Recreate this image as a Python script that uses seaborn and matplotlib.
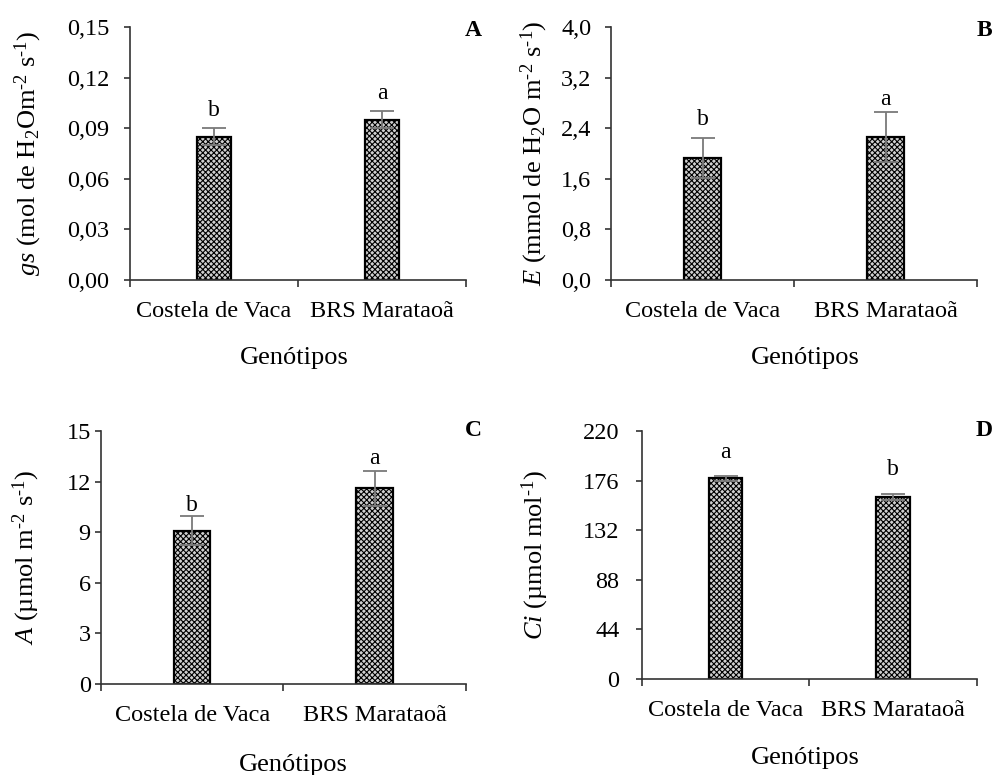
import matplotlib
matplotlib.use("Agg")
import matplotlib.pyplot as plt
import seaborn as sns
import numpy as np

sns.set_theme(style="white")
plt.rcParams['font.family'] = ['Liberation Serif', 'DejaVu Serif']
plt.rcParams['mathtext.fontset'] = 'custom'
plt.rcParams['mathtext.rm'] = 'Liberation Serif'
plt.rcParams['mathtext.it'] = 'Liberation Serif:italic'
plt.rcParams['mathtext.bf'] = 'Liberation Serif:bold'
plt.rcParams['hatch.linewidth'] = 0.8
for k in ['text.color', 'axes.labelcolor', 'xtick.color', 'ytick.color']:
    plt.rcParams[k] = 'black'

categories = ["Costela de Vaca", "BRS Marataoã"]

gs_mean = [0.085, 0.095]
gs_err = [0.005, 0.005]
gs_letters = ["b", "a"]
gs_letter_y = [0.0945, 0.1045]

E_mean = [1.93, 2.26]
E_err = [0.32, 0.39]
E_letters = ["b", "a"]
E_letter_y = [2.37, 2.69]

A_mean = [9.1, 11.6]
A_err = [0.85, 1.05]
A_letters = ["b", "a"]
A_letter_y = [9.95, 12.75]

Ci_mean = [178.0, 161.5]
Ci_err = [2.5, 2.5]
Ci_letters = ["a", "b"]
Ci_letter_y = [192.0, 176.5]

W, H = 995, 775
fig = plt.figure(figsize=(W / 100, H / 100), dpi=100)

def px_axes(l, r, t, b):
    return fig.add_axes([l / W, (H - b) / H, (r - l) / W, (b - t) / H])

panels = [
    dict(box=(130, 466, 27, 280), mean=gs_mean, err=gs_err, letters=gs_letters, ly=gs_letter_y,
         ymax=0.15, step=0.03, fmt="{:.2f}", tag="A", tagpos=(1.048, 1.028),
         ylabel=r"$\it{gs}$ (mol de H$_2$Om$^{\text{-2}}$ s$^{\text{-1}}$)", ylc=(-0.256, 0.5), xlc=(0.488, -0.265), ypad=10.5),
    dict(box=(611, 977, 27, 280), mean=E_mean, err=E_err, letters=E_letters, ly=E_letter_y,
         ymax=4.0, step=0.8, fmt="{:.1f}", tag="B", tagpos=(1.041, 1.028),
         ylabel=r"$\it{E}$ (mmol de H$_2$O m$^{\text{-2}}$ s$^{\text{-1}}$)", ylc=(-0.166, 0.5), xlc=(0.53, -0.265), ypad=10),
    dict(box=(101, 466, 431, 684), mean=A_mean, err=A_err, letters=A_letters, ly=A_letter_y,
         ymax=15, step=3, fmt="{:.0f}", tag="C", tagpos=(1.044, 1.043),
         ylabel=r"$\it{A}$ (µmol m$^{\text{-2}}$ s$^{\text{-1}}$)", ylc=(-0.161, 0.5), xlc=(0.526, -0.277), ypad=3),
    dict(box=(642, 977, 431, 679), mean=Ci_mean, err=Ci_err, letters=Ci_letters, ly=Ci_letter_y,
         ymax=220, step=44, fmt="{:.0f}", tag="D", tagpos=(1.048, 1.044),
         ylabel=r"$\it{Ci}$ (µmol mol$^{\text{-1}}$)", ylc=(-0.272, 0.5), xlc=(0.487, -0.275), ypad=12),
]

for p in panels:
    ax = px_axes(*p["box"])
    sns.barplot(x=categories, y=p["mean"], ax=ax, width=0.2, color="#b0b0b0",
                edgecolor="black", linewidth=1.6, errorbar=None, saturation=1)
    for patch in ax.patches:
        patch.set_hatch("xxxxxx")
        patch.set_facecolor("#d0d0d0")
    xs = np.arange(len(categories))
    ax.errorbar(xs, p["mean"], yerr=p["err"], fmt="none", ecolor="#7a7a7a",
                elinewidth=1.3, capsize=8.5, capthick=1.3, zorder=5)
    for x, t, y in zip(xs, p["letters"], p["ly"]):
        ax.text(x, y, t, ha="center", va="bottom", fontsize=17)
    ax.set_xlim(-0.5, 1.5)
    ax.set_ylim(0, p["ymax"])
    ticks = np.arange(0, p["ymax"] + p["step"] / 2, p["step"])
    ax.set_yticks(ticks)
    ax.set_yticklabels([p["fmt"].format(v).replace(".", ",") for v in ticks])
    ax.set_xticks([-0.5, 0.5, 1.5])
    ax.set_xticklabels([])
    ax.set_xticks([0, 1], minor=True)
    ax.set_xticklabels(categories, minor=True)
    ax.tick_params(axis="x", which="major", length=5, width=1.2, color="#333333", direction="out", bottom=True)
    ax.tick_params(axis="x", which="minor", length=0, pad=15, labelsize=17.5, bottom=True)
    ax.tick_params(axis="y", which="major", length=4.3, width=1.2, color="#333333", direction="out",
                   left=True, pad=p["ypad"], labelsize=17.5)
    for s in ["top", "right"]:
        ax.spines[s].set_visible(False)
    for s in ["left", "bottom"]:
        ax.spines[s].set_color("#333333")
        ax.spines[s].set_linewidth(1.2)
    ax.set_ylabel(p["ylabel"], fontsize=19)
    ax.yaxis.set_label_coords(*p["ylc"])
    ax.set_xlabel("Genótipos", fontsize=19, va="top")
    ax.xaxis.set_label_coords(*p["xlc"])
    ax.text(p["tagpos"][0], p["tagpos"][1], p["tag"], transform=ax.transAxes, ha="right", va="top",
            fontsize=17, fontweight="bold")

fig.savefig("out.png", dpi=100)
